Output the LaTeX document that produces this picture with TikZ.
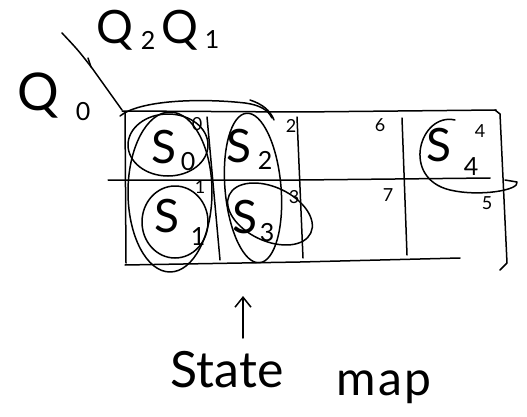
\documentclass[tikz,border=0pt]{standalone}
\usepackage{fontspec}
\setmainfont{Lato}
\usetikzlibrary{arrows.meta}
\begin{document}
\begin{tikzpicture}[x=1pt,y=-1pt, line width=1.5pt, line cap=round, line join=round,
  big/.style={inner sep=0pt, font=\fontsize{46}{46}\selectfont},
  sub/.style={inner sep=0pt, font=\fontsize{25}{25}\selectfont},
  num/.style={inner sep=0pt, font=\fontsize{18}{18}\selectfont},
  caption/.style={inner sep=0pt, font=\fontsize{50}{50}\selectfont}]
\useasboundingbox (0,0) rectangle (527,417);

% grid
\draw (122,111) -- (300,112) -- (496,110);
\draw (108,180) -- (300,180) -- (490,178);
\draw (125,265) -- (300,262) -- (460,258);
\draw (125,112) -- (126,263);
\draw (207,117) -- (220,260);
\draw (297,117) -- (303,258);
\draw (402,118) -- (407,255);
\draw (495,110) -- (500,114) -- (507,263) -- (500,270);

% diagonal divider
\draw (62,33) .. controls (78,50) .. (92,68) -- (122,110);
\draw (88,58) -- (91,67);

% headings
\node[big] (q2) at (115,30) {Q};
\node[sub] (two) at (148,40) {2};
\node[big] (q1) at (180,30) {Q};
\node[sub] (one) at (212,40) {1};
\node[big, font=\fontsize{52}{52}\selectfont] (q0) at (38,96) {Q};
\node[sub] (zero) at (83,112) {0};

% cell numbers
\node[num] (n0) at (197,124) {0};
\node[num] (n2) at (291,126) {2};
\node[num] (n6) at (380,125) {6};
\node[num] (n4) at (480,131) {4};
\node[num] (n1) at (200,187) {1};
\node[num] (n3) at (294,197) {3};
\node[num] (n7) at (388,195) {7};
\node[num] (n5) at (487,203) {5};

% state labels
\node[big] (s0) at (164,147) {S};
\node[sub] (s0i) at (188,162) {0};
\node[big] (s2) at (239,146) {S};
\node[sub] (s2i) at (265,160) {2};
\node[big] (s1) at (167,216) {S};
\node[sub] (s1i) at (198,237) {1};
\node[big] (s3) at (245,217) {S};
\node[sub] (s3i) at (267,233) {3};
\node[big] (s4) at (439,145) {S};
\node[sub] (s4i) at (471,167) {4};

% loops
\draw (168,145) ellipse [x radius=40pt, y radius=31pt];
\draw (170,192) ellipse [x radius=42pt, y radius=80pt];
\draw (175,222) ellipse [x radius=33pt, y radius=36pt];
\draw[rotate around={5:(253,188)}] (253,188) ellipse [x radius=28pt, y radius=75pt];
\draw[rotate around={-25:(270,214)}] (270,214) ellipse [x radius=45pt, y radius=27pt];
\draw (120,116) .. controls (140,100) and (200,98) .. (245,103) .. controls (260,105) and (268,110) .. (272,118);
\draw (250,100) .. controls (262,104) and (270,110) .. (274,120);
\draw (455,120) .. controls (420,112) and (400,178) .. (450,190) .. controls (480,197) and (520,190) .. (517,182) -- (505,180);

% caption
\node[caption, anchor=base west] (state) at (170,387) {State};
\node[caption, anchor=base west, font=\fontsize{48}{48}\selectfont\addfontfeature{LetterSpace=5}] (map) at (336,395) {map};
\coordinate (arrbase) at (243,338);
\draw[-{Straight Barb[length=10pt,width=16pt]}] (arrbase) -- (243,296);
\end{tikzpicture}
\end{document}
